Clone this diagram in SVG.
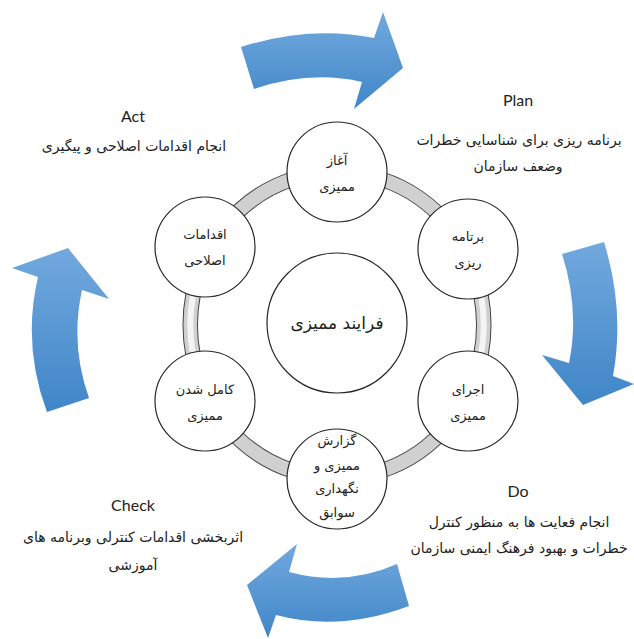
<svg xmlns="http://www.w3.org/2000/svg" width="634" height="639" viewBox="0 0 634 639">
<style>
.a{fill:url(#blue)}
.n{fill:#fff;stroke:#262626;stroke-width:1.2}
.t{font-family:"DejaVu Sans",sans-serif;font-size:13px;fill:#222;text-anchor:middle;direction:rtl}
.l{font-size:14px}
.h{font-family:Lato,sans-serif;font-size:16px;fill:#222;text-anchor:middle}
.o{fill:none;stroke:#444;stroke-width:15.5}
.i{fill:none;stroke:#d0d0d0;stroke-width:13.5}
.s{fill:none;stroke:#f4f4f4;stroke-width:6}
</style>
<defs>
<linearGradient id="blue" x1="0" y1="0" x2="0" y2="1"><stop offset="0" stop-color="#72a9de"/><stop offset="1" stop-color="#4086c8"/></linearGradient>
</defs>
<rect width="634" height="639" fill="#fff"/>
<g id="cycle-arrows">
<path class="a" d="M241 47Q310 25 374 38L383 12L403 68L354 109L362 82Q310 70 254 89Z"/>
<path class="a" d="M562 254L604 242Q625 310 613 376L634 384L583 405L542 355L569 363Q580 310 562 254Z"/>
<path class="a" d="M47 412L89 398Q70 345 82 290L109 299L68 248L12 268L38 277Q22 345 47 412Z"/>
<path class="a" d="M397 564L409 606Q340 632 276 615L268 638L247 585L297 544L289 572Q345 587 397 564Z"/>
</g>
<g id="connectors">
<path class="o" d="M381 179A147 153 0 0 1 450 227M450 423A147 153 0 0 1 381 471M293 471A147 153 0 0 1 224 423M224 227A147 153 0 0 1 293 179"/>
<path class="i" d="M381 179A147 153 0 0 1 450 227M450 423A147 153 0 0 1 381 471M293 471A147 153 0 0 1 224 423M224 227A147 153 0 0 1 293 179"/>
<path class="o" d="M472 265A147 153 0 0 1 472 385M202 385A147 153 0 0 1 202 265"/>
<path class="i" d="M472 265A147 153 0 0 1 472 385M202 385A147 153 0 0 1 202 265"/>
<path class="s" d="M472 265A147 153 0 0 1 472 385M202 385A147 153 0 0 1 202 265"/>
</g>
<g id="node-center"><circle class="n" cx="337" cy="323" r="70"/><text class="t" style="font-size:17px" x="337" y="329">فرایند ممیزی</text></g>
<g id="node-start"><circle class="n" cx="337" cy="172" r="50"/><text class="t" x="337" y="165">آغاز</text><text class="t" x="337" y="191">ممیزی</text></g>
<g id="node-plan"><circle class="n" cx="468" cy="249" r="50"/><text class="t" x="468" y="241">برتامه</text><text class="t" x="468" y="267">ریزی</text></g>
<g id="node-do"><circle class="n" cx="468" cy="401" r="50"/><text class="t" x="468" y="394">اجرای</text><text class="t" x="468" y="420">ممیزی</text></g>
<g id="node-report"><circle class="n" cx="337" cy="479" r="50"/><text class="t" x="337" y="445">گزارش</text><text class="t" x="337" y="470">ممیزی و</text><text class="t" x="337" y="493">نگهداری</text><text class="t" x="337" y="517">سوابق</text></g>
<g id="node-finish"><circle class="n" cx="205" cy="401" r="50"/><text class="t" x="205" y="394">کامل شدن</text><text class="t" x="205" y="420">ممیزی</text></g>
<g id="node-act"><circle class="n" cx="205" cy="247" r="50"/><text class="t" x="205" y="239">اقدامات</text><text class="t" x="205" y="265">اصلاحی</text></g>
<g id="label-plan"><text class="h" x="518" y="106">Plan</text><text class="t l" x="519" y="145">برنامه ریزی برای شناسایی خطرات</text><text class="t l" x="518" y="171">وضعف سازمان</text></g>
<g id="label-do"><text class="h" x="518" y="497">Do</text><text class="t l" x="519" y="527">انجام فعایت ها به منظور کنترل</text><text class="t l" x="519" y="553">خطرات و بهبود فرهنگ ایمنی سازمان</text></g>
<g id="label-check"><text class="h" x="133" y="511">Check</text><text class="t l" x="133" y="542">اثربخشی اقدامات کنترلی وبرنامه های</text><text class="t l" x="133" y="570">آموزشی</text></g>
<g id="label-act"><text class="h" x="133" y="122">Act</text><text class="t l" x="134" y="151">انجام اقدامات اصلاحی و پیگیری</text></g>
</svg>
